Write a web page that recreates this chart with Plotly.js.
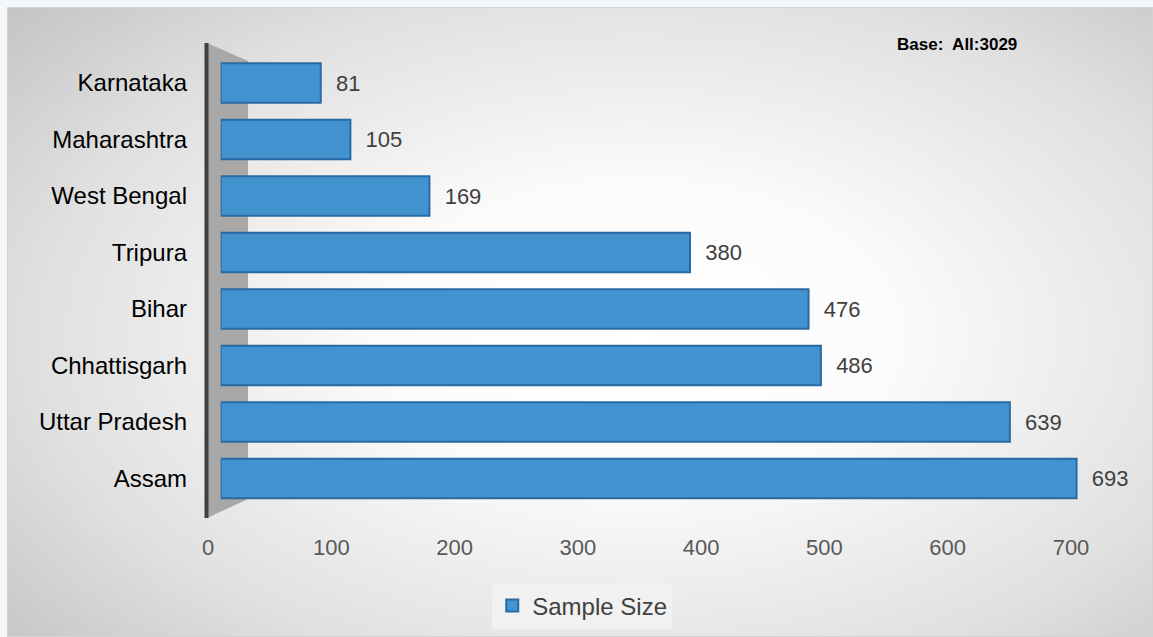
<!DOCTYPE html>
<html>
<head>
<meta charset="utf-8">
<script src="https://cdn.plot.ly/plotly-3.0.1.min.js"></script>
<style>
  html, body { margin: 0; padding: 0; background: #f3f8fb; }
  #wrap { position: relative; width: 1153px; height: 637px; overflow: hidden; }
  #bg { position: absolute; left: 7px; top: 7px; width: 1146px; height: 630px;
        border: 1px solid #d3d3d3; box-sizing: border-box;
        background: radial-gradient(ellipse 75% 80% at 55% 52%, #ffffff 0%, #fbfbfb 30%, #e0e0e0 70%, #c2c2c2 100%); }
  #chart { position: absolute; left: 0; top: 0; width: 1153px; height: 637px; }
</style>
</head>
<body>
<div id="wrap">
  <div id="bg"></div>
  <div id="chart"></div>
</div>
<script>
// ---- data ----
const states = ['Karnataka', 'Maharashtra', 'West Bengal', 'Tripura', 'Bihar', 'Chhattisgarh', 'Uttar Pradesh', 'Assam'];
const sampleSize = [81, 105, 169, 380, 476, 486, 639, 693];
const tickValues = [0, 100, 200, 300, 400, 500, 600, 700];
const seriesName = 'Sample Size';
const baseNote = 'Base:\u00a0 All:3029';

// ---- layout helpers (pixel -> paper fractions) ----
const W = 1153, H = 637;
const px = v => v / W;
const py = v => 1 - v / H;
const FONT = 'Liberation Sans, Arial, Helvetica, sans-serif';

// Bars: drawn on a 3D-style "front" axis (x2) that sits slightly right of the tick axis
const bars = {
  type: 'bar',
  orientation: 'h',
  name: seriesName,
  y: states,
  x: sampleSize,
  xaxis: 'x2',
  yaxis: 'y',
  width: 0.7,
  marker: { color: '#4393d0', line: { color: '#2a6aa3', width: 2 } },
  text: sampleSize.map(String),
  texttemplate: '\u00a0\u00a0%{text}',
  textposition: 'outside',
  cliponaxis: false,
  textfont: { family: FONT, size: 22, color: '#404040' },
  hoverinfo: 'x+y'
};

// Invisible companion on the tick axis so that the value axis (x) is drawn
const axisCarrier = {
  type: 'scatter',
  mode: 'none',
  x: sampleSize,
  y: states,
  xaxis: 'x',
  yaxis: 'y',
  showlegend: false,
  hoverinfo: 'skip'
};

const layout = {
  width: W, height: H,
  margin: { l: 0, r: 0, t: 0, b: 0 },
  paper_bgcolor: 'rgba(0,0,0,0)',
  plot_bgcolor: 'rgba(0,0,0,0)',
  font: { family: FONT, size: 22, color: '#595959' },
  showlegend: true,
  legend: {
    orientation: 'h', x: 0.505, xanchor: 'center', y: py(606), yanchor: 'middle',
    bgcolor: 'rgba(242,242,242,0.85)', borderwidth: 0, itemwidth: 30,
    font: { family: FONT, size: 24, color: '#404040' }
  },
  xaxis: {
    domain: [px(208), px(1071)],
    range: [0, 700],
    tickvals: tickValues,
    ticktext: tickValues.map(String),
    ticklabelstandoff: 25,
    showgrid: false, zeroline: false, showline: false, ticks: '',
    tickfont: { family: FONT, size: 22, color: '#595959' },
    anchor: 'y', automargin: false, fixedrange: true
  },
  xaxis2: {
    domain: [px(220.7), px(1085.2)],
    range: [0, 700],
    visible: false,
    anchor: 'y', automargin: false, fixedrange: true
  },
  yaxis: {
    domain: [py(506.75), py(54.75)],
    type: 'category',
    categoryorder: 'array', categoryarray: states,
    range: [7.5, -0.5],
    showgrid: false, zeroline: false, showline: false, ticks: '',
    ticklabelstandoff: 20,
    tickfont: { family: FONT, size: 24, color: '#000000' },
    anchor: 'x', automargin: false, fixedrange: true
  },
  shapes: [
    { type: 'path', xref: 'paper', yref: 'paper', layer: 'below',
      path: `M ${px(207)} ${py(43)} L ${px(248)} ${py(61)} L ${px(248)} ${py(499)} L ${px(207)} ${py(518)} Z`,
      fillcolor: '#a8a8a8', line: { width: 0 } },
    { type: 'line', xref: 'paper', yref: 'paper', layer: 'above',
      x0: px(206.5), x1: px(206.5), y0: py(518), y1: py(43),
      line: { color: '#404040', width: 4 } }
  ],
  annotations: [
    { xref: 'paper', yref: 'paper', x: px(895), y: py(44), xanchor: 'left', yanchor: 'middle',
      text: '<b>' + baseNote + '</b>', showarrow: false,
      font: { family: FONT, size: 17, color: '#000000' } }
  ]
};

Plotly.newPlot('chart', [axisCarrier, bars], layout, { displayModeBar: false, staticPlot: true });
</script>
</body>
</html>
